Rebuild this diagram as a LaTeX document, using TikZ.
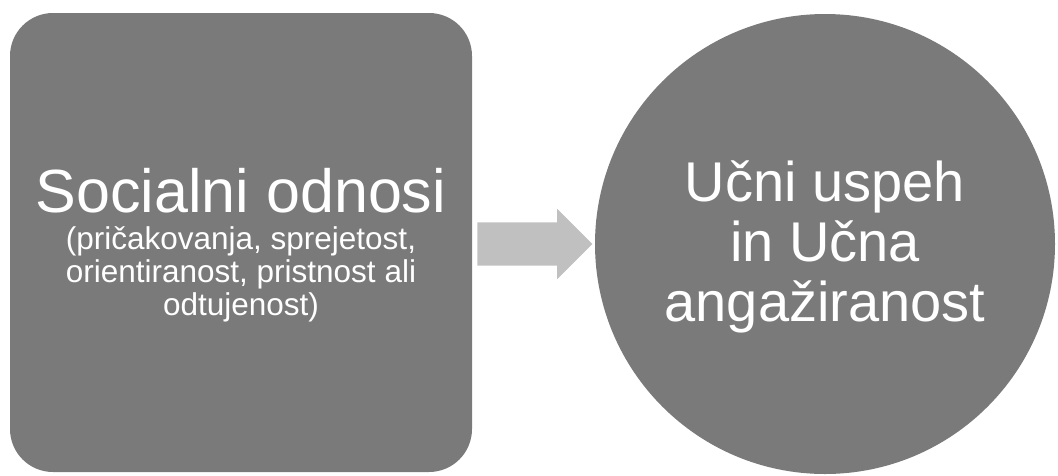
\documentclass[tikz,border=0pt]{standalone}
\usepackage{fontspec}
\setmainfont{Liberation Sans}
\usepackage{tikz}
\usetikzlibrary{shapes.arrows}

\definecolor{boxgray}{RGB}{122,122,122}
\definecolor{arrowgray}{RGB}{192,192,192}

\begin{document}
\begin{tikzpicture}[x=1pt,y=-1pt,
  blockn/.style={fill=boxgray,draw=none,text=white,align=center,inner sep=0pt},
  arrown/.style={single arrow,fill=arrowgray,draw=none,inner sep=21.5pt,
    single arrow head extend=13.5pt,single arrow head indent=0pt,
    minimum height=115pt}]
  \useasboundingbox (0,0) rectangle (1058,475);
  \node[blockn, rounded corners=43pt, minimum width=462pt, minimum height=459pt] (social) at (241,242.5) {};
  \node[text=white, align=center, anchor=base] (socialt) at (241,212)
    {\fontsize{61}{64}\selectfont Socialni odnosi};
  \node[text=white, align=center, anchor=north, font=\fontsize{31.5}{33}\selectfont] (sociald) at (241,223)
    {(pričakovanja, sprejetost,\\ orientiranost, pristnost ali\\ odtujenost)};
  \node[blockn, circle, minimum size=460pt] (success) at (825,244) {};
  \node[text=white, align=center, font=\fontsize{56}{60}\selectfont] (successt) at (825,247)
    {Učni uspeh\\ in Učna\\ angažiranost};
  \node[arrown] (arrow) at (524,244) {};
\end{tikzpicture}
\end{document}
